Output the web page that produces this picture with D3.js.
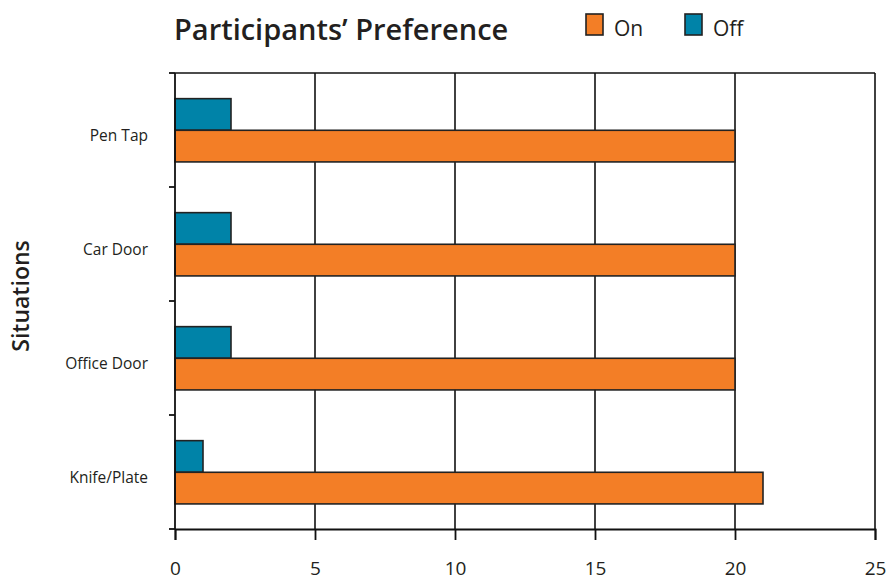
<!DOCTYPE html>
<html>
<head>
<meta charset="utf-8">
<script src="https://cdn.jsdelivr.net/npm/d3@7"></script>
<style>
  body { margin: 0; background: #fff; }
  svg { display: block; }
  text { font-family: "Open Sans", "Noto Sans", sans-serif; fill: #231f20; }
</style>
</head>
<body>
<svg id="chart" width="887" height="582"></svg>
<script>
// Situations tested and how many participants preferred each setting
const situations = ["Pen Tap", "Car Door", "Office Door", "Knife/Plate"];
const onValues = [20, 20, 20, 21];
const offValues = [2, 2, 2, 1];
const xTicks = [0, 5, 10, 15, 20, 25];
const seriesNames = ["On", "Off"];
const seriesColors = ["#f37e26", "#0083a8"];

const svg = d3.select("#chart");
const margin = { top: 73, right: 12, bottom: 53, left: 175 };
const W = 887, H = 582;
const innerW = W - margin.left - margin.right;
const innerH = H - margin.top - margin.bottom;

const x = d3.scaleLinear().domain([0, 25]).range([0, innerW]);
const y = d3.scaleBand().domain(situations).range([0, innerH]).paddingInner(0).paddingOuter(0);
const sub = d3.scaleBand().domain(["Off", "On"]).range([y.bandwidth() * 0.225, y.bandwidth() * 0.78]);

const g = svg.append("g").attr("transform", `translate(${margin.left},${margin.top})`);

// vertical grid lines at each x tick
g.selectAll(".grid").data(xTicks.slice(1)).join("line")
  .attr("x1", d => x(d)).attr("x2", d => x(d))
  .attr("y1", 0).attr("y2", innerH)
  .attr("stroke", "#111").attr("stroke-width", 1.6);

// top border
g.append("line").attr("x1", 0).attr("x2", innerW).attr("y1", 0).attr("y2", 0)
  .attr("stroke", "#111").attr("stroke-width", 1.6);

const rows = situations.map((s, i) => ({ s, on: onValues[i], off: offValues[i] }));

// bars
const row = g.selectAll(".row").data(rows).join("g")
  .attr("transform", d => `translate(0,${y(d.s)})`);
row.append("rect")
  .attr("x", 0).attr("y", sub("Off"))
  .attr("width", d => x(d.off)).attr("height", sub.bandwidth())
  .attr("fill", seriesColors[1]).attr("stroke", "#222").attr("stroke-width", 1.6);
row.append("rect")
  .attr("x", 0).attr("y", sub("On"))
  .attr("width", d => x(d.on)).attr("height", sub.bandwidth())
  .attr("fill", seriesColors[0]).attr("stroke", "#222").attr("stroke-width", 1.6);

// x axis
const xAxis = g.append("g").attr("transform", `translate(0,${innerH})`)
  .call(d3.axisBottom(x).tickValues(xTicks).tickSize(11).tickPadding(22).tickFormat(d3.format("d")));
xAxis.select(".domain").attr("stroke", "#111").attr("stroke-width", 1.8);
xAxis.selectAll(".tick line").attr("stroke", "#111").attr("stroke-width", 1.8);
xAxis.selectAll(".tick text").style("font-size", "19px").style("font-weight", 500).attr("fill", "#231f20");

// y axis: ticks on band boundaries, labels at band centers
const bounds = d3.range(situations.length + 1).map(i => i * y.step());
g.append("line").attr("x1", 0).attr("x2", 0).attr("y1", 0).attr("y2", innerH)
  .attr("stroke", "#111").attr("stroke-width", 1.8);
g.selectAll(".ytick").data(bounds).join("line")
  .attr("x1", -6).attr("x2", 0).attr("y1", d => d).attr("y2", d => d)
  .attr("stroke", "#111").attr("stroke-width", 1.8);
g.selectAll(".ylab").data(situations).join("text")
  .attr("x", -27).attr("y", d => y(d) + y.bandwidth() * 0.56)
  .attr("text-anchor", "end").attr("dominant-baseline", "middle")
  .style("font-size", "15.5px").style("font-weight", 500)
  .text(d => d);

// axis title
svg.append("text")
  .attr("transform", `translate(29,${margin.top + innerH / 2 - 5}) rotate(-90)`)
  .attr("text-anchor", "middle")
  .style("font-size", "23px").style("font-weight", 600)
  .text("Situations");

// title
svg.append("text").attr("x", 174).attr("y", 40)
  .style("font-size", "29px").style("font-weight", 600)
  .text("Participants’ Preference");

// legend
const legend = svg.append("g");
const legendX = [586, 685];
seriesNames.forEach((name, i) => {
  legend.append("rect").attr("x", legendX[i]).attr("y", 14).attr("width", 17).attr("height", 21)
    .attr("fill", seriesColors[i]).attr("stroke", "#222").attr("stroke-width", 1.6);
  legend.append("text").attr("x", legendX[i] + 28).attr("y", 36)
    .style("font-size", "21px").style("font-weight", 500).text(name);
});
</script>
</body>
</html>
